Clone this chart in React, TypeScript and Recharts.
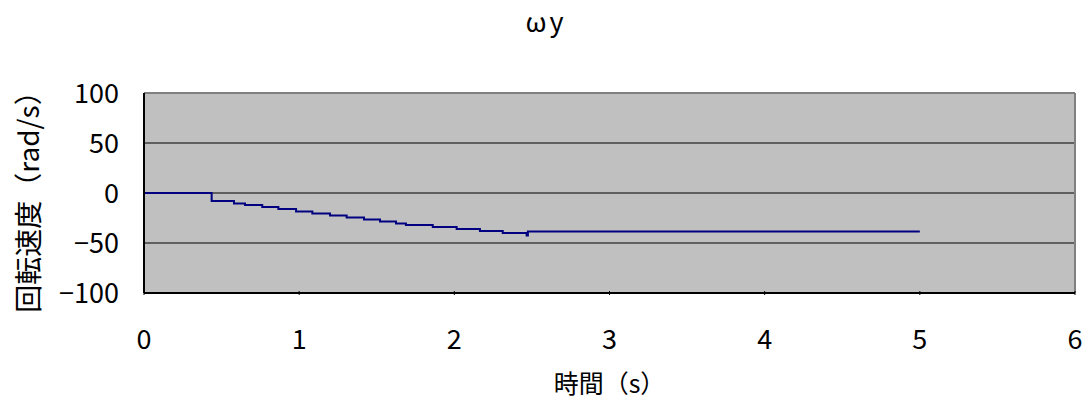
import React from 'react';
import { LineChart, Line, XAxis, YAxis, CartesianGrid, ReferenceLine } from 'recharts';

// time (s) where each step starts, and the angular velocity held from there
const times = [0, 0.436, 0.58, 0.651, 0.762, 0.866, 0.98, 1.085, 1.199, 1.306, 1.418, 1.521, 1.624, 1.688, 1.861, 2.015, 2.165, 2.312, 2.466, 2.474, 5.0];
const omegaY = [0, -8, -10.4, -12, -14, -16, -18.4, -20.4, -22.4, -24.4, -26.5, -28.5, -30.5, -32, -34, -36, -38, -40, -42.4, -38.5, -38.5];

const xTicks = [0, 1, 2, 3, 4, 5, 6];
const yTicks = [-100, -50, 0, 50, 100];
const gridLevels = [50, 0, -50];

const data = times.map((t, i) => ({ t, w: omegaY[i] }));

const FONT = '"Noto Sans CJK JP", "Noto Sans", sans-serif';

function XTick({ x, y, payload }: any) {
    return (
        <g>
            <line x1={x} x2={x} y1={y - 4} y2={y} stroke="#000" />
            <text x={x} y={y + 54} textAnchor="middle" fontSize={27} fill="#000" fontFamily={FONT}>
                {payload.value}
            </text>
        </g>
    );
}

export default function App() {
    return (
        <div style={{ position: 'absolute', left: 0, top: 0, width: 1090, height: 406, background: '#fff', fontFamily: FONT }}>
            <div style={{ position: 'absolute', left: 0, top: 6, width: 1092, textAlign: 'center', fontSize: 27, lineHeight: '30px', letterSpacing: 3 }}>ωy</div>
            <div
                style={{
                    position: 'absolute', left: 27 - 150, top: 197 - 17, width: 300, height: 30,
                    textAlign: 'center', fontSize: 28, lineHeight: '30px', transform: 'rotate(-90deg)',
                }}
            >
                回転速度（rad/s）
            </div>
            <div style={{ position: 'absolute', left: 144, top: 367, width: 931, textAlign: 'center', fontSize: 25, lineHeight: '30px' }}>
                時間（s）
            </div>
            <LineChart width={1090} height={406} data={data} margin={{ top: 93, right: 15, bottom: 0, left: 0 }}>
                <CartesianGrid fill="#c0c0c0" horizontal={false} vertical={false} />
                {gridLevels.map((v) => (
                    <ReferenceLine key={v} y={v} stroke="#000" />
                ))}
                <ReferenceLine y={100} stroke="#808080" strokeWidth={2} />
                <ReferenceLine x={6} stroke="#808080" strokeWidth={2} />
                <XAxis
                    dataKey="t" type="number" domain={[0, 6]} ticks={xTicks} height={113}
                    axisLine={{ stroke: '#000', strokeWidth: 2 }} tickLine={false} tickSize={0} tick={<XTick />}
                />
                <YAxis
                    type="number" domain={[-100, 100]} ticks={yTicks} width={144}
                    axisLine={{ stroke: '#000', strokeWidth: 2 }} tickLine={false} tickSize={0} tickMargin={25}
                    tick={{ fontSize: 27, fill: '#000', fontFamily: FONT }}
                    tickFormatter={(v: number) => String(v).replace('-', '−')}
                />
                <Line type="stepAfter" dataKey="w" stroke="#000080" strokeWidth={2} dot={false} isAnimationActive={false} />
            </LineChart>
        </div>
    );
}
